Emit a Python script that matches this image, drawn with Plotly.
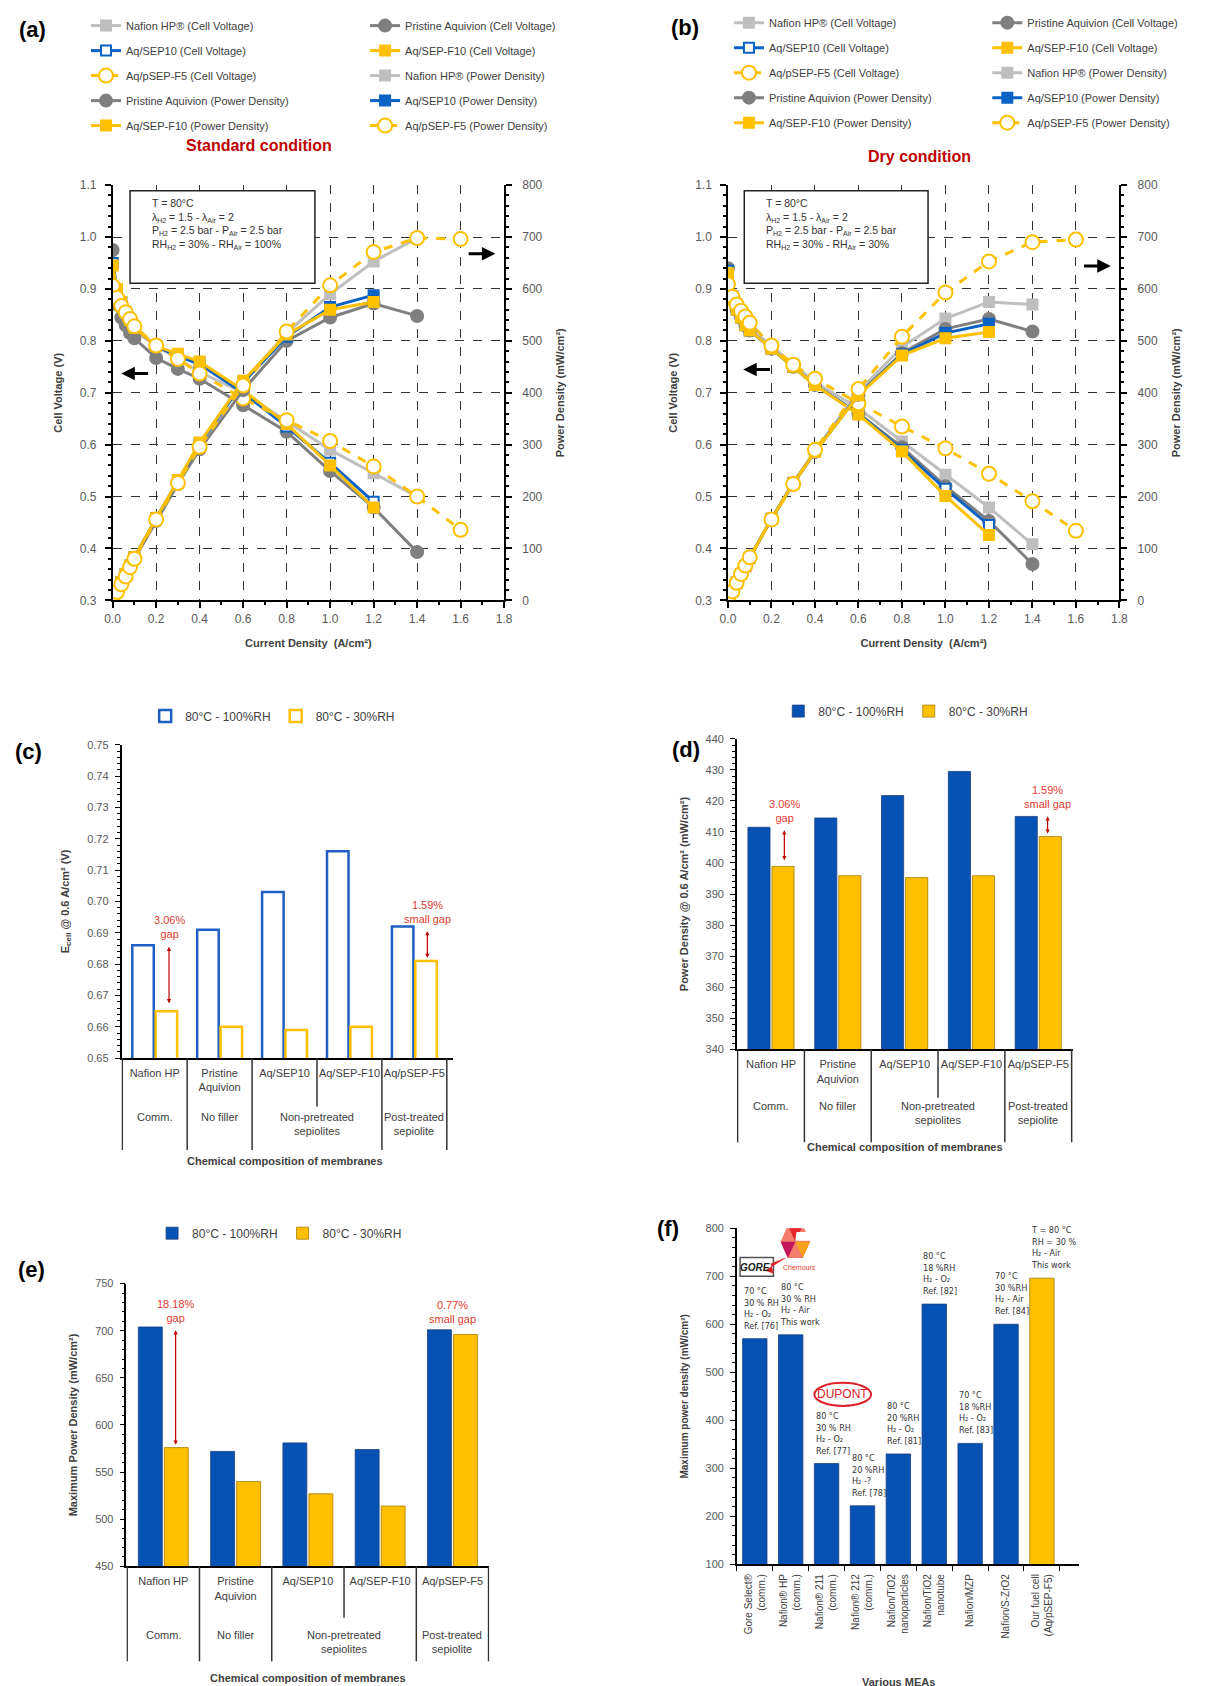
import plotly.graph_objects as go

# ======================= DATA =======================
# ---- (a) Standard condition : current density (A/cm2), cell voltage (V), power density (mW/cm2)
cd_a_nafion   = [0, 0.02, 0.04, 0.06, 0.08, 0.1, 0.2, 0.3, 0.4, 0.6, 0.8, 1.0, 1.2, 1.4]
cd_a_pristine = [0, 0.02, 0.04, 0.06, 0.08, 0.1, 0.2, 0.3, 0.4, 0.6, 0.8, 1.0, 1.2, 1.4]
cd_a_sep10    = [0, 0.02, 0.04, 0.06, 0.08, 0.1, 0.2, 0.3, 0.4, 0.6, 0.8, 1.0, 1.2]
cd_a_sepf10   = [0, 0.02, 0.04, 0.06, 0.08, 0.1, 0.2, 0.3, 0.4, 0.6, 0.8, 1.0, 1.2]
cd_a_psep     = [0, 0.02, 0.04, 0.06, 0.08, 0.1, 0.2, 0.3, 0.4, 0.6, 0.8, 1.0, 1.2, 1.4, 1.6]

v_a_nafion   = [0.95, 0.90, 0.87, 0.85, 0.835, 0.82, 0.79, 0.765, 0.74, 0.70, 0.645, 0.59, 0.545, 0.50]
v_a_pristine = [0.975, 0.87, 0.845, 0.83, 0.815, 0.805, 0.767, 0.746, 0.727, 0.676, 0.625, 0.549, 0.479, 0.393]
v_a_sep10    = [0.95, 0.90, 0.875, 0.855, 0.84, 0.825, 0.79, 0.77, 0.755, 0.70, 0.635, 0.565, 0.49]
v_a_sepf10   = [0.945, 0.90, 0.875, 0.855, 0.84, 0.825, 0.79, 0.775, 0.76, 0.705, 0.64, 0.56, 0.479]
v_a_psep     = [0.906, 0.883, 0.867, 0.855, 0.842, 0.828, 0.791, 0.765, 0.737, 0.689, 0.647, 0.607, 0.558, 0.50, 0.436]

p_a_nafion   = [0, 18, 35, 51, 67, 82, 158, 230, 296, 420, 515, 590, 653, 698]
p_a_pristine = [0, 17, 34, 50, 65, 80, 153, 224, 291, 405, 500, 545, 572, 548]
p_a_sep10    = [0, 18, 35, 51, 67, 83, 158, 231, 302, 420, 508, 565, 588]
p_a_sepf10   = [0, 18, 35, 51, 67, 83, 158, 232, 304, 423, 512, 560, 575]
p_a_psep     = [0, 16, 31, 46, 64, 80, 156, 226, 296, 414, 518, 607, 671, 698, 696]

# ---- (b) Dry condition
cd_b_nafion   = [0, 0.02, 0.04, 0.06, 0.08, 0.1, 0.2, 0.3, 0.4, 0.6, 0.8, 1.0, 1.2, 1.4]
cd_b_pristine = [0, 0.02, 0.04, 0.06, 0.08, 0.1, 0.2, 0.3, 0.4, 0.6, 0.8, 1.0, 1.2, 1.4]
cd_b_sep10    = [0, 0.02, 0.04, 0.06, 0.08, 0.1, 0.2, 0.3, 0.4, 0.6, 0.8, 1.0, 1.2]
cd_b_sepf10   = [0, 0.02, 0.04, 0.06, 0.08, 0.1, 0.2, 0.3, 0.4, 0.6, 0.8, 1.0, 1.2]
cd_b_psep     = [0, 0.02, 0.04, 0.06, 0.08, 0.1, 0.2, 0.3, 0.4, 0.6, 0.8, 1.0, 1.2, 1.4, 1.6]

v_b_nafion   = [0.93, 0.885, 0.865, 0.85, 0.835, 0.825, 0.79, 0.755, 0.72, 0.67, 0.606, 0.542, 0.479, 0.408]
v_b_pristine = [0.94, 0.88, 0.86, 0.845, 0.83, 0.82, 0.785, 0.75, 0.715, 0.66, 0.595, 0.52, 0.453, 0.37]
v_b_sep10    = [0.935, 0.885, 0.86, 0.845, 0.83, 0.82, 0.785, 0.75, 0.715, 0.66, 0.59, 0.515, 0.445]
v_b_sepf10   = [0.93, 0.88, 0.86, 0.845, 0.83, 0.82, 0.785, 0.75, 0.715, 0.658, 0.587, 0.501, 0.426]
v_b_psep     = [0.909, 0.885, 0.87, 0.858, 0.847, 0.835, 0.791, 0.754, 0.727, 0.68, 0.635, 0.593, 0.544, 0.491, 0.434]

p_b_nafion   = [0, 18, 35, 51, 67, 82, 158, 227, 288, 402, 488, 543, 575, 570]
p_b_pristine = [0, 18, 34, 51, 66, 82, 157, 225, 286, 396, 476, 523, 542, 518]
p_b_sep10    = [0, 18, 34, 51, 66, 82, 157, 225, 286, 396, 474, 515, 533]
p_b_sepf10   = [0, 18, 34, 51, 66, 82, 157, 225, 286, 395, 472, 505, 517]
p_b_psep     = [0, 17, 34, 51, 67, 83, 156, 224, 290, 407, 508, 593, 653, 690, 695]

series_names = ["Nafion HP®", "Pristine Aquivion", "Aq/SEP10", "Aq/SEP-F10", "Aq/pSEP-F5"]

# ---- (c), (d), (e) membranes comparison
membranes = ["Nafion HP", "Pristine<br>Aquivion", "Aq/SEP10", "Aq/SEP-F10", "Aq/pSEP-F5"]
membrane_groups = ["Comm.", "No filler", "Non-pretreated<br>sepiolites", "Post-treated<br>sepiolite"]
group_sizes = [1, 1, 2, 1]
cond_names = ["80°C - 100%RH", "80°C - 30%RH"]

ecell_100 = [0.686, 0.691, 0.703, 0.716, 0.692]
ecell_30  = [0.665, 0.660, 0.659, 0.660, 0.681]
pd06_100  = [411.5, 414.5, 421.7, 429.5, 415.0]
pd06_30   = [398.9, 395.9, 395.3, 395.9, 408.5]
pmax_100  = [704, 572, 581, 574, 701]
pmax_30   = [576, 540, 527, 514, 696]

gap_c = ["3.06%<br>gap", "1.59%<br>small gap"]
gap_d = ["3.06%<br>gap", "1.59%<br>small gap"]
gap_e = ["18.18%<br>gap", "0.77%<br>small gap"]

# ---- (f) various MEAs
meas = ["Gore Select®<br>(comm.)", "Nafion® HP<br>(comm.)", "Nafion® 211<br>(comm.)",
        "Nafion® 212<br>(comm.)", "Nafion/TiO2<br>nanoparticles", "Nafion/TiO2<br>nanotube",
        "Nafion/MZP", "Nafion/S-ZrO2", "Our fuel cell<br>(Aq/pSEP-F5)"]
pmax_meas = [570, 578, 310, 222, 330, 642, 352, 600, 696]
this_work = [0, 0, 0, 0, 0, 0, 0, 0, 1]
mea_notes = ["70 °C<br>30 % RH<br>H₂ - O₂<br>Ref. [76]",
             "80 °C<br>30 % RH<br>H₂ - Air<br>This work",
             "80 °C<br>30 % RH<br>H₂ - O₂<br>Ref. [77]",
             "80 °C<br>20 %RH<br>H₂ -?<br>Ref. [78]",
             "80 °C<br>20 %RH<br>H₂ - O₂<br>Ref. [81]",
             "80 °C<br>18 %RH<br>H₂ - O₂<br>Ref. [82]",
             "70 °C<br>18 %RH<br>H₂ - O₂<br>Ref. [83]",
             "70 °C<br>30 %RH<br>H₂ - Air<br>Ref. [84]",
             "T = 80 °C<br>RH = 30 %<br>H₂ - Air<br>This work"]

# ======================= STYLE / LAYOUT =======================
W, H = 1223, 1686
FONT = "Liberation Sans, Arial, sans-serif"
NARROW = "Liberation Sans Narrow, Arial Narrow, DejaVu Sans Condensed, Liberation Sans, sans-serif"
TXT = "#404040"
TICK = "#595959"
BLUE = "#0652B4"
GOLD = "#FFC000"
RED = "#E23B2E"
DARKRED = "#C00000"


def px(x):
    return x / W


def py(y):
    return 1 - y / H


def sub(t, size=7):
    return f'<span style="font-size:{size}px;baseline-shift:-25%">{t}</span>'


styles = [
    dict(color="#BFBFBF", symbol="square", fill="#BFBFBF", size=10, dash="solid"),
    dict(color="#7F7F7F", symbol="circle", fill="#7F7F7F", size=12, dash="solid"),
    dict(color="#0A62C4", symbol="square", fill="white", size=10, dash="solid"),
    dict(color=GOLD, symbol="square", fill=GOLD, size=10, dash="solid"),
    dict(color=GOLD, symbol="circle", fill="white", size=14, dash="dash"),
]

fig = go.Figure()


def add_polar(cds, vs, ps, xa, yv, yp, legs, tag):
    k = 0
    for kind, vals, ya in (("Cell Voltage", vs, yv), ("Power Density", ps, yp)):
        for i in range(5):
            st = dict(styles[i])
            if kind == "Power Density" and i == 2:
                st["fill"] = st["color"]
            fig.add_trace(go.Scatter(
                x=cds[i], y=vals[i], mode="lines+markers",
                name=f"{series_names[i]} ({kind})",
                line=dict(color=st["color"], width=3, dash=st["dash"]),
                marker=dict(symbol=st["symbol"], size=st["size"], color=st["fill"],
                            line=dict(color=st["color"], width=2)),
                xaxis=xa, yaxis=ya, legend=legs[k % 2], legendgroup=f"{tag}{k}"))
            k += 1


add_polar([cd_a_nafion, cd_a_pristine, cd_a_sep10, cd_a_sepf10, cd_a_psep],
          [v_a_nafion, v_a_pristine, v_a_sep10, v_a_sepf10, v_a_psep],
          [p_a_nafion, p_a_pristine, p_a_sep10, p_a_sepf10, p_a_psep],
          "x", "y", "y2", ["legend", "legend2"], "a")
add_polar([cd_b_nafion, cd_b_pristine, cd_b_sep10, cd_b_sepf10, cd_b_psep],
          [v_b_nafion, v_b_pristine, v_b_sep10, v_b_sepf10, v_b_psep],
          [p_b_nafion, p_b_pristine, p_b_sep10, p_b_sepf10, p_b_psep],
          "x2", "y3", "y4", ["legend6", "legend7"], "b")

# bars (c) open, (d),(e) filled
fig.add_trace(go.Bar(x=membranes, y=ecell_100, name=cond_names[0], xaxis="x3", yaxis="y5",
                     marker=dict(color="white", line=dict(color="#1F5FC4", width=2.5)), legend="legend3"))
fig.add_trace(go.Bar(x=membranes, y=ecell_30, name=cond_names[1], xaxis="x3", yaxis="y5",
                     marker=dict(color="white", line=dict(color=GOLD, width=2.5)), legend="legend3"))
for vals100, vals30, xa, ya, lg in ((pd06_100, pd06_30, "x4", "y6", "legend4"),
                                    (pmax_100, pmax_30, "x5", "y7", "legend5")):
    fig.add_trace(go.Bar(x=membranes, y=vals100, name=cond_names[0], xaxis=xa, yaxis=ya,
                         marker=dict(color=BLUE, line=dict(color="#1B3F80", width=0.8)), legend=lg))
    fig.add_trace(go.Bar(x=membranes, y=vals30, name=cond_names[1], xaxis=xa, yaxis=ya,
                         marker=dict(color=GOLD, line=dict(color="#A67C00", width=0.8)), legend=lg))

fig.add_trace(go.Bar(x=meas, y=pmax_meas, xaxis="x6", yaxis="y8", width=0.68, showlegend=False,
                     marker=dict(color=[GOLD if t else BLUE for t in this_work],
                                 line=dict(color=["#A67C00" if t else "#1B3F80" for t in this_work], width=0.8))))

# ---------- axes ----------
tickfont = dict(family=FONT, size=12, color=TICK)
titlefont = dict(family=FONT, size=11, color=TXT, weight="bold")
GRID = dict(showgrid=True, gridcolor="#333333", griddash="dash", gridwidth=1.3)


def line_x(dom, anchor):
    return dict(domain=[px(dom[0]), px(dom[1])], anchor=anchor, range=[0, 1.8], dtick=0.2, tick0=0,
                tickformat=".1f", zeroline=False, showline=True, linecolor="black", linewidth=1.5,
                ticks="outside", ticklen=6, tickwidth=1.5, tickcolor="black",
                minor=dict(dtick=0.1, ticks="outside", ticklen=3, tickcolor="black"),
                tickfont=tickfont, title=dict(text="Current Density  (A/cm²)", font=titlefont),
                **GRID)


def line_yl(dom, anchor):
    return dict(domain=[py(dom[1]), py(dom[0])], anchor=anchor, range=[0.3, 1.1], dtick=0.1,
                tickformat=".1f", zeroline=False, showline=True, linecolor="black", linewidth=1.5,
                ticks="outside", ticklen=6, tickwidth=1.5, tickcolor="black",
                minor=dict(dtick=0.02, ticks="outside", ticklen=3, tickcolor="black"),
                tickfont=tickfont, ticklabelstandoff=6,
                title=dict(text="Cell Voltage (V)", font=titlefont), **GRID)


def line_yr(overlay, anchor):
    return dict(overlaying=overlay, anchor=anchor, side="right", range=[0, 800], dtick=100,
                showgrid=False, zeroline=False, showline=True, linecolor="black", linewidth=1.5,
                ticks="outside", ticklen=6, tickwidth=1.5, tickcolor="black",
                minor=dict(dtick=20, ticks="outside", ticklen=3, tickcolor="black"),
                tickfont=tickfont, ticklabelstandoff=8,
                title=dict(text="Power Density (mW/cm²)", font=titlefont))


def bar_x(dom, anchor, angle=0, boundaries=False):
    d = dict(domain=[px(dom[0]), px(dom[1])], anchor=anchor, type="category", showline=True,
             linecolor="black", linewidth=1.5, ticks="", showgrid=False,
             tickfont=dict(family=FONT, size=11, color=TXT), ticklabelstandoff=4, tickangle=angle)
    if boundaries:
        d.update(ticks="outside", tickson="boundaries", ticklen=5, tickcolor="black",
                 tickfont=dict(family=FONT, size=10, color=TXT))
    return d


def bar_y(dom, anchor, rng, dt, fmt, mdt, title, tsize=11):
    return dict(domain=[py(dom[1]), py(dom[0])], anchor=anchor, range=rng, dtick=dt, tickformat=fmt,
                showgrid=False, zeroline=False, showline=True, linecolor="black", linewidth=1.5,
                ticks="outside", ticklen=5, tickcolor="black",
                minor=dict(dtick=mdt, ticks="outside", ticklen=3, tickcolor="black"),
                tickfont=dict(family=FONT, size=11, color=TICK), ticklabelstandoff=4,
                title=dict(text=title, font=dict(family=FONT, size=tsize, color=TXT, weight="bold")))


A_X, A_Y = (98, 495), (167, 587)
B_X, B_Y = (722, 1119), (167, 587)
C_X, C_Y = (107, 443), (733, 1050)
D_X, D_Y = (731, 1072), (727, 1041)
E_X, E_Y = (112, 480), (1278, 1564)
F_X, F_Y = (731, 1078), (1222, 1562)

layout = dict(
    width=W, height=H, autosize=False, margin=dict(l=0, r=0, t=0, b=0),
    paper_bgcolor="white", plot_bgcolor="white", font=dict(family=FONT, color=TXT),
    barmode="group", bargap=0.28, bargroupgap=0.08,
    xaxis=line_x(A_X, "y"), yaxis=line_yl(A_Y, "x"), yaxis2=line_yr("y", "x"),
    xaxis2=line_x(B_X, "y3"), yaxis3=line_yl(B_Y, "x2"), yaxis4=line_yr("y3", "x2"),
    xaxis3=bar_x(C_X, "y5"),
    yaxis5=bar_y(C_Y, "x3", [0.65, 0.75], 0.01, ".2f", 0.002, "E" + sub("cell", 8) + " @ 0.6 A/cm² (V)"),
    xaxis4=bar_x(D_X, "y6"),
    yaxis6=bar_y(D_Y, "x4", [340, 440], 10, "d", 2, "Power Density @ 0.6 A/cm² (mW/cm²)"),
    xaxis5=bar_x(E_X, "y7"),
    yaxis7=bar_y(E_Y, "x5", [450, 750], 50, "d", 10, "Maximum Power Density (mW/cm²)"),
    xaxis6=bar_x(F_X, "y8", angle=-90, boundaries=True),
    yaxis8=bar_y(F_Y, "x6", [100, 800], 100, "d", 20, "Maximum power density (mW/cm²)", tsize=10),
)

# legends
lfont = dict(family=FONT, size=11, color=TXT)
def vleg(xp, ytop):
    return dict(x=px(xp), y=py(ytop), xanchor="left", yanchor="top", orientation="v",
                font=lfont, tracegroupgap=6, bgcolor="rgba(0,0,0,0)")
def hleg(xp, yc):
    return dict(x=px(xp), y=py(yc), xanchor="left", yanchor="middle", orientation="h",
                font=dict(family=FONT, size=12, color=TXT), bgcolor="rgba(0,0,0,0)")

layout.update(legend=vleg(71, -9), legend2=vleg(354, -9),
              legend6=vleg(723, -12), legend7=vleg(985, -12),
              legend3=hleg(131, 704), legend4=hleg(773, 699), legend5=hleg(138, 1227),
              showlegend=True)
fig.update_layout(**layout)

# ---------- annotations ----------
ann = []
shapes = []


def note(text, x, y, size, color=TXT, bold=False, xanchor="center", yanchor="middle", family=FONT, **kw):
    f = dict(family=family, size=size, color=color)
    if bold:
        f["weight"] = "bold"
    d = dict(text=text, x=x, y=y, showarrow=False, font=f, xanchor=xanchor, yanchor=yanchor)
    d.update(kw)
    if "xref" not in d:
        d["xref"] = "paper"
        d["yref"] = "paper"
    ann.append(d)


for lab, x, y in (("(a)", 17, 10), ("(b)", 678, 8), ("(c)", 13, 740), ("(d)", 679, 738),
                  ("(e)", 16, 1264), ("(f)", 661, 1222)):
    note(lab, px(x), py(y), 22, color="black", bold=True)
note("Standard condition", px(246), py(127), 16, color=DARKRED, bold=True)
note("Dry condition", px(916), py(138), 16, color=DARKRED, bold=True)

# condition boxes in (a) and (b)
rh_air = ["100%", "30%"]
box_txt = [("T = 80°C<br>λ" + sub("H2") + " = 1.5 - λ" + sub("Air") + " = 2<br>P" + sub("H2")
            + " = 2.5 bar - P" + sub("Air") + " = 2.5 bar<br>RH" + sub("H2") + " = 30% - RH"
            + sub("Air") + " = " + r) for r in rh_air]
for (xa, ya, x0, x1), txt in zip((("x", "y", 0.08, 0.93), ("x2", "y3", 0.075, 0.92)), box_txt):
    shapes.append(dict(type="rect", xref=xa, yref=ya, x0=x0, x1=x1, y0=0.911, y1=1.089,
                       line=dict(color="#222", width=1.5), fillcolor="white", layer="between"))
    note(txt, x0 + 0.09, 1.08, 10.5, color="#333", xanchor="left", yanchor="top", align="left",
         xref=xa, yref=ya)
# direction arrows
for xa, ya, tip, tail, y in (("x", "y", 0.04, 0.17, 0.737), ("x", "y", 1.76, 1.63, 0.968),
                             ("x2", "y3", 0.07, 0.2, 0.745), ("x2", "y3", 1.76, 1.63, 0.944)):
    ann.append(dict(text="", xref=xa, yref=ya, x=tip, y=y, ax=tail, ay=y, axref=xa, ayref=ya,
                    showarrow=True, arrowhead=2, arrowsize=0.9, arrowwidth=3, arrowcolor="black"))


# gap annotations
def gap_ann(xa, ya, idx, dx, top, bottom, txt, arrow=True):
    if arrow:
        ann.append(dict(text="", xref=xa, yref=ya, x=idx + dx, y=bottom, ax=idx + dx, ay=top,
                        axref=xa, ayref=ya, showarrow=True, arrowhead=2, startarrowhead=2,
                        arrowside="end+start", arrowsize=0.7, arrowwidth=1.2, arrowcolor=DARKRED))
    note(txt, idx + dx, top, 11, color=RED, yanchor="bottom", yshift=3, xref=xa, yref=ya)


gap_ann("x3", "y5", 0, 0.22, ecell_100[0], ecell_30[0] + 0.0025, gap_c[0])
gap_ann("x3", "y5", 4, 0.2, ecell_100[4] - 0.001, ecell_30[4] + 0.001, gap_c[1])
gap_ann("x4", "y6", 0, 0.2, pd06_100[0] - 0.5, pd06_30[0] + 2, gap_d[0])
gap_ann("x4", "y6", 4, 0.14, pd06_100[4] + 0.5, pd06_30[4] + 1, gap_d[1])
gap_ann("x5", "y7", 0, 0.17, pmax_100[0] - 2, pmax_30[0] + 3, gap_e[0])
gap_ann("x5", "y7", 4, 0.0, pmax_100[4], pmax_30[4], gap_e[1], arrow=False)

# membrane table (group labels + dividers)
for xa, ytop_px, gl_px, bot_px, mid_px, title_px in (("x3", C_Y[1], 1101, 1143, 1099, 1154),
                                                    ("x4", D_Y[1], 1090, 1135, 1090, 1140),
                                                    ("x5", E_Y[1], 1625, 1660, 1616, 1677)):
    start = 0
    for g, n in zip(membrane_groups, group_sizes):
        note(g, start + (n - 1) / 2, py(gl_px), 11, yanchor="top", xref=xa, yref="paper")
        shapes.append(dict(type="line", xref=xa, yref="paper", x0=start - 0.5, x1=start - 0.5,
                           y0=py(ytop_px), y1=py(bot_px), line=dict(color="#333", width=1.5)))
        for j in range(1, n):
            shapes.append(dict(type="line", xref=xa, yref="paper", x0=start + j - 0.5, x1=start + j - 0.5,
                               y0=py(ytop_px), y1=py(mid_px), line=dict(color="#333", width=1.5)))
        start += n
    shapes.append(dict(type="line", xref=xa, yref="paper", x0=start - 0.5, x1=start - 0.5,
                       y0=py(ytop_px), y1=py(bot_px), line=dict(color="#333", width=1.5)))
    note("Chemical composition of membranes", (start - 1) / 2, py(title_px), 11, bold=True,
         xref=xa, yref="paper")

# (f) notes above bars
for i, (txt, v) in enumerate(zip(mea_notes, pmax_meas)):
    note(txt, i - 0.36, v, 9, color="#333", xanchor="left", yanchor="bottom", yshift=6, align="left",
         family=NARROW, xref="x6", yref="y8")
note("Various MEAs", 4, py(1681), 11, bold=True, xref="x6", yref="paper")

# logos (approximations)
shapes.append(dict(type="rect", xref="x6", yref="y8", x0=-0.41, x1=0.52, y0=700, y1=739,
                   line=dict(color="#555", width=1.5), fillcolor="white"))
note("<i>GORE</i>", 0.02, 719, 10, color="#222", bold=True, xref="x6", yref="y8")
shapes.append(dict(type="path", xref="x6", yref="y8", path="M 0.30 712 L 0.85 738 L 0.45 726 L 0.52 706 Z",
                   fillcolor="#E02020", line=dict(color="#E02020", width=0.5)))
shapes.append(dict(type="path", xref="x6", yref="y8",
                   path="M 0.72 772 L 0.92 806 L 1.34 806 L 1.54 772 L 1.34 738 L 0.92 738 Z",
                   fillcolor="#F47C6A", line=dict(width=0)))
shapes.append(dict(type="path", xref="x6", yref="y8",
                   path="M 0.92 806 L 1.34 806 L 1.13 772 Z", fillcolor="#E3262B", line=dict(width=0)))
shapes.append(dict(type="path", xref="x6", yref="y8",
                   path="M 0.72 772 L 0.92 738 L 1.13 772 Z", fillcolor="#C2185B", line=dict(width=0)))
shapes.append(dict(type="path", xref="x6", yref="y8",
                   path="M 1.13 772 L 1.54 772 L 1.34 738 Z", fillcolor="#F9A11B", line=dict(width=0)))
shapes.append(dict(type="path", xref="x6", yref="y8",
                   path="M 1.13 774 L 1.54 774 L 1.54 792 L 1.16 792 Z", fillcolor="white", line=dict(width=0)))
note("Chemours", 1.25, 718, 7, color="#E8412B", xref="x6", yref="y8")
shapes.append(dict(type="circle", xref="x6", yref="y8", x0=1.66, x1=3.24, y0=430, y1=478,
                   line=dict(color="#E0202A", width=2), fillcolor="white"))
note("DUPONT", 2.45, 454, 12, color="#E0202A", xref="x6", yref="y8")

fig.update_layout(annotations=ann, shapes=shapes)
fig.write_html("out.html")
